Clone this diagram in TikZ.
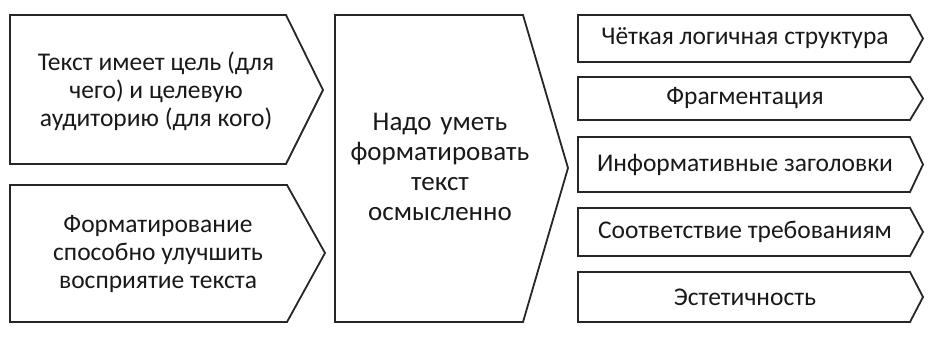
\documentclass[tikz,border=0pt]{standalone}
\usepackage{fontspec}
\setmainfont{Carlito}
\begin{document}
\begin{tikzpicture}[x=1pt,y=-1pt,
  box/.style={line width=1.8pt, draw=black!85, line join=miter},
  lbl/.style={align=center, font=\fontsize{25.5}{28}\selectfont, text=black!90},
  mid/.style={align=center, font=\fontsize{27}{30}\selectfont, text=black!90},
  sml/.style={align=center, font=\fontsize{25.5}{28}\selectfont, text=black!90}]
\useasboundingbox (0,0) rectangle (947,340);
% left boxes
\draw[box] (10,15) -- (286,15) -- (323,90) -- (286,164) -- (10,164) -- cycle;
\node[lbl] (a) at (156,91) {Текст имеет цель (для\\чего) и целевую\\аудиторию (для кого)};
\draw[box] (10,185) -- (287,185) -- (325,253) -- (287,322) -- (10,322) -- cycle;
\node[lbl] (b) at (158,254) {Форматирование\\способно улучшить\\восприятие текста};
% middle box
\draw[box] (335,15) -- (523,15) -- (568,168) -- (523,322) -- (335,322) -- cycle;
\node[mid, text width=200pt] (c) at (440,167) {Надо уметь\\форматировать\\текст\\осмысленно};
% right boxes
\foreach \t/\b/\n/\s in {15/62/r1/{Чёткая логичная структура},
                        77/120/r2/{Фрагментация},
                        137/192/r3/{Информативные заголовки},
                        208/256/r4/{Соответствие требованиям},
                        272/322/r5/{Эстетичность}}{
  \draw[box] (578,\t) -- (910,\t) -- (923,{(\t+\b)/2}) -- (910,\b) -- (578,\b) -- cycle;
  \node[sml] (\n) at (745,{(\t+\b)/2}) {\s};
}
\end{tikzpicture}
\end{document}
